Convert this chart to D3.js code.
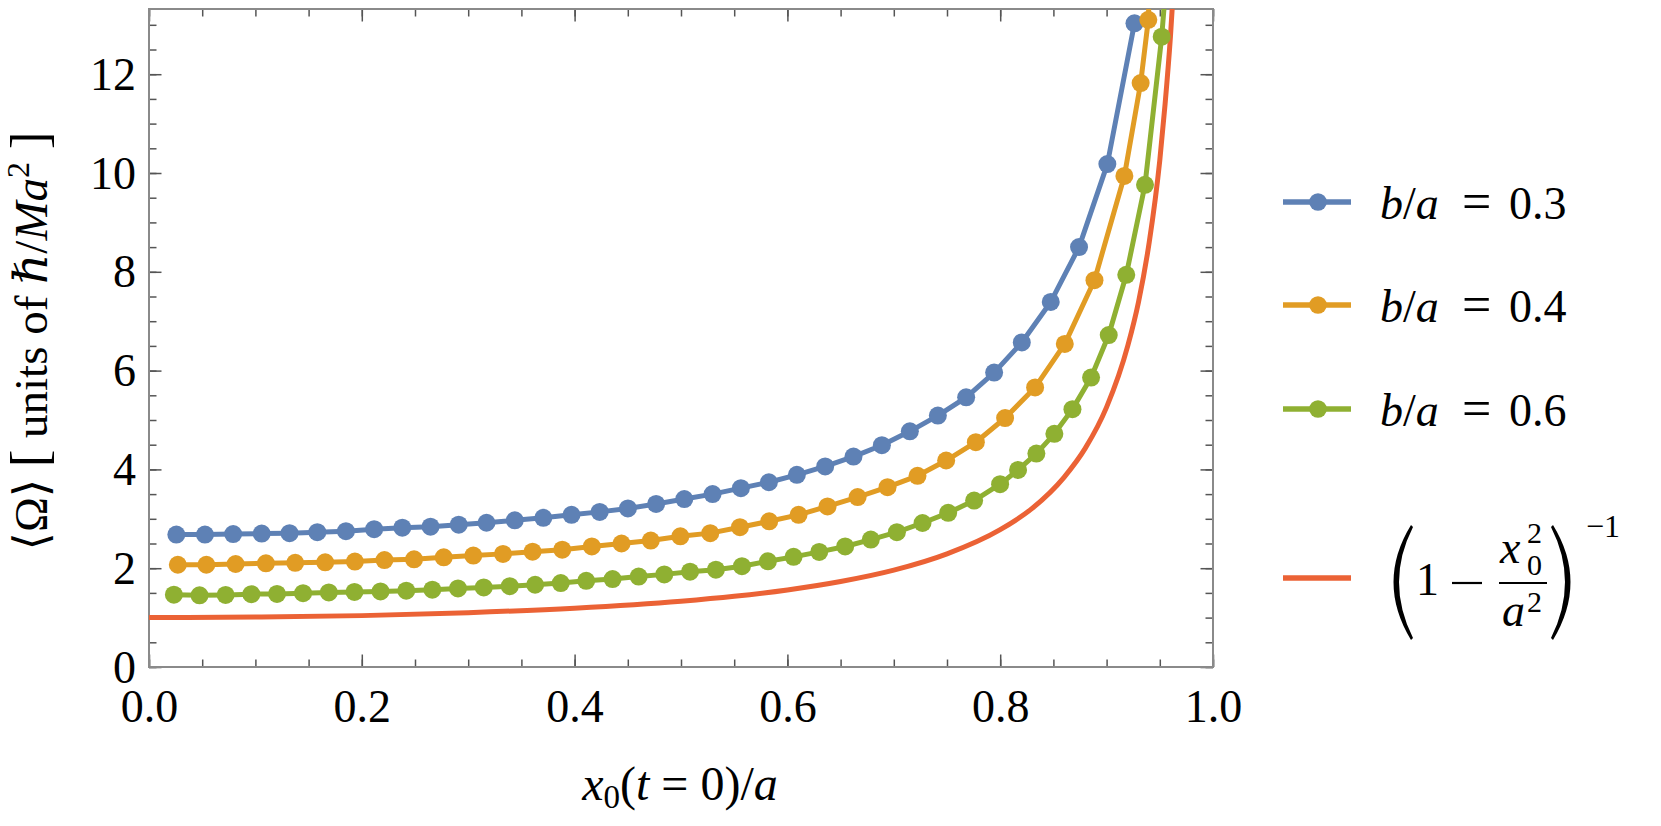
<!doctype html>
<html lang="en">
<head>
<meta charset="utf-8">
<title>Omega vs x0</title>
<style>
  body { margin: 0; background: #fff; }
  svg text { font-family: "Liberation Serif", "Times New Roman", "DejaVu Serif", serif; fill: #000; }
  .it { font-style: italic; }
</style>
</head>
<body>
<script src="https://d3js.org/d3.v7.min.js"></script>
<script>
// data
var xBlue = [0.0257,0.0526,0.0791,0.1059,0.1321,0.1582,0.1851,0.2116,0.2381,0.2646,0.2911,0.3172,0.3438,0.3706,0.3971,0.4236,0.4501,0.4766,0.5031,0.5297,0.5563,0.5826,0.6089,0.6355,0.6621,0.6888,0.7151,0.7414,0.7680,0.7943,0.8203,0.8475,0.8741,0.9007,0.9262];
var yBlue = [2.68,2.68,2.69,2.70,2.71,2.73,2.75,2.79,2.82,2.84,2.88,2.92,2.97,3.02,3.08,3.14,3.21,3.30,3.40,3.50,3.62,3.74,3.89,4.06,4.26,4.49,4.77,5.09,5.46,5.96,6.57,7.39,8.50,10.18,13.03];

var xOrange = [0.0271,0.0539,0.0814,0.1099,0.1374,0.1656,0.1935,0.2213,0.2491,0.2770,0.3048,0.3327,0.3605,0.3884,0.4162,0.4441,0.4716,0.4994,0.5275,0.5554,0.5829,0.6105,0.6377,0.6660,0.6941,0.7223,0.7492,0.7771,0.8046,0.8328,0.8607,0.8886,0.9167,0.9320,0.9392,0.9437];
var yOrange = [2.07,2.07,2.085,2.10,2.11,2.12,2.135,2.165,2.18,2.22,2.255,2.29,2.335,2.375,2.44,2.50,2.56,2.645,2.71,2.83,2.95,3.08,3.25,3.44,3.64,3.87,4.18,4.55,5.04,5.66,6.54,7.83,9.94,11.82,13.10,16.0];

var xGreen = [0.0234,0.0475,0.0720,0.0962,0.1203,0.1448,0.1690,0.1931,0.2176,0.2418,0.2663,0.2904,0.3146,0.3391,0.3629,0.3870,0.4109,0.4357,0.4602,0.4843,0.5085,0.5328,0.5573,0.5817,0.6058,0.6299,0.6543,0.6784,0.7029,0.7270,0.7511,0.7755,0.7999,0.8168,0.8340,0.8509,0.8679,0.8854,0.9020,0.9185,0.9361,0.9518,0.962];
var yGreen = [1.465,1.45,1.46,1.475,1.48,1.495,1.51,1.52,1.53,1.545,1.565,1.59,1.61,1.635,1.665,1.70,1.745,1.78,1.83,1.875,1.93,1.97,2.04,2.14,2.23,2.33,2.44,2.58,2.73,2.915,3.12,3.37,3.70,3.99,4.32,4.72,5.22,5.86,6.72,7.94,9.76,12.76,15.5];

var xRed = [0,0.1,0.2,0.3,0.4,0.5,0.55,0.6,0.65,0.7,0.75,0.8,0.83,0.86,0.88,0.9,0.92,0.93,0.94,0.95,0.955,0.96,0.965];
var yRed = [1.0,1.01,1.04,1.10,1.19,1.33,1.43,1.56,1.73,1.96,2.29,2.78,3.21,3.84,4.43,5.26,6.51,7.39,8.59,10.26,11.40,12.76,14.49];

var xTicks = [0, 0.2, 0.4, 0.6, 0.8, 1.0];
var yTicks = [0, 2, 4, 6, 8, 10, 12];
var legendLabels = ["0.3", "0.4", "0.6"];
var colors = ["#5E81B5", "#E19C24", "#8FB032", "#EB6235"];

var margin = {top: 9, right: 448, bottom: 159, left: 149},
    width = 1661 - margin.left - margin.right,
    height = 826 - margin.top - margin.bottom;

var x = d3.scaleLinear().domain([0, 1]).range([0, width]);
var y = d3.scaleLinear().domain([0, 13.32]).range([height, 0]);

var svg = d3.select("body").append("svg")
    .attr("width", 1661)
    .attr("height", 826);

var g = svg.append("g")
    .attr("transform", "translate(" + margin.left + "," + margin.top + ")");

g.append("clipPath").attr("id", "clip")
  .append("rect").attr("width", width).attr("height", height);

// minor + major ticks on all four sides, pointing inward
var minorX = d3.range(0, 1.0001, 0.05), minorY = d3.range(0, 13.3, 0.5);
function tickStyle(sel) {
  sel.attr("font-family", null);
  sel.select(".domain").remove();
  sel.selectAll("line").attr("stroke", "#555").attr("stroke-width", 1.5);
}
g.append("g").attr("transform", "translate(0," + height + ")")
  .call(d3.axisBottom(x).tickValues(minorX).tickSize(-7.5).tickFormat("")).call(tickStyle);
g.append("g").call(d3.axisTop(x).tickValues(minorX).tickSize(-7.5).tickFormat("")).call(tickStyle);
g.append("g").call(d3.axisLeft(y).tickValues(minorY).tickSize(-7.5).tickFormat("")).call(tickStyle);
g.append("g").attr("transform", "translate(" + width + ",0)")
  .call(d3.axisRight(y).tickValues(minorY).tickSize(-7.5).tickFormat("")).call(tickStyle);

var xAxis = g.append("g").attr("transform", "translate(0," + height + ")")
  .call(d3.axisBottom(x).tickValues(xTicks).tickSize(-12.5).tickPadding(22).tickFormat(d3.format(".1f")))
  .call(tickStyle);
g.append("g").call(d3.axisTop(x).tickValues(xTicks).tickSize(-12.5).tickFormat("")).call(tickStyle);
var yAxis = g.append("g")
  .call(d3.axisLeft(y).tickValues(yTicks).tickSize(-12.5).tickPadding(13).tickFormat(d3.format("d")))
  .call(tickStyle);
g.append("g").attr("transform", "translate(" + width + ",0)")
  .call(d3.axisRight(y).tickValues(yTicks).tickSize(-12.5).tickFormat("")).call(tickStyle);

xAxis.selectAll("text").attr("font-size", 46);
yAxis.selectAll("text").attr("font-size", 46).attr("dy", "0.33em");

g.append("rect")
  .attr("width", width).attr("height", height)
  .attr("fill", "none").attr("stroke", "#8a8a8a").attr("stroke-width", 2);

// series
var series = [
  {xs: xBlue, ys: yBlue, color: colors[0]},
  {xs: xOrange, ys: yOrange, color: colors[1]},
  {xs: xGreen, ys: yGreen, color: colors[2]}
];
var line = d3.line().x(function(d) { return x(d[0]); }).y(function(d) { return y(d[1]); });

g.append("path")
  .datum(xRed.map(function(v, i) { return [v, yRed[i]]; }))
  .attr("clip-path", "url(#clip)")
  .attr("fill", "none").attr("stroke", colors[3]).attr("stroke-width", 5)
  .attr("d", line.curve(d3.curveMonotoneX));
line.curve(d3.curveLinear);

series.forEach(function(s) {
  var pts = s.xs.map(function(v, i) { return [v, s.ys[i]]; });
  g.append("path").datum(pts)
    .attr("clip-path", "url(#clip)")
    .attr("fill", "none").attr("stroke", s.color).attr("stroke-width", 5)
    .attr("stroke-linejoin", "round")
    .attr("d", line);
  g.selectAll(null).data(pts.filter(function(d) { return d[1] <= 13.32; }))
    .enter().append("circle")
    .attr("cx", function(d) { return x(d[0]); })
    .attr("cy", function(d) { return y(d[1]); })
    .attr("r", 9)
    .attr("fill", s.color);
});

// axis labels
var xl = svg.append("text").attr("x", 680).attr("y", 800)
  .attr("text-anchor", "middle").attr("font-size", 48);
xl.append("tspan").attr("class", "it").text("x");
xl.append("tspan").attr("font-size", 33).attr("dy", 8).text("0");
xl.append("tspan").attr("dy", -8).text("(");
xl.append("tspan").attr("class", "it").text("t");
xl.append("tspan").attr("dx", 12).text("=");
xl.append("tspan").attr("dx", 12).text("0)/");
xl.append("tspan").attr("class", "it").text("a");

var yl = svg.append("text")
  .attr("transform", "translate(47,341) rotate(-90)")
  .attr("text-anchor", "middle").attr("font-size", 47);
yl.append("tspan").text("\u27E8\u03A9\u27E9 ");
yl.append("tspan").attr("font-size", 52).text("[");
yl.append("tspan").text(" units of ");
yl.append("tspan").attr("class", "it").text("\u210F");
yl.append("tspan").text("/");
yl.append("tspan").attr("class", "it").text("Ma");
yl.append("tspan").attr("font-size", 32).attr("dy", -18).text("2");
yl.append("tspan").attr("font-size", 52).attr("dy", 18).text(" ]");

// legend
var legY = [202, 305, 409];
legendLabels.forEach(function(lab, i) {
  var lg = svg.append("g");
  lg.append("line").attr("x1", 1283).attr("x2", 1351).attr("y1", legY[i]).attr("y2", legY[i])
    .attr("stroke", colors[i]).attr("stroke-width", 5.5);
  lg.append("circle").attr("cx", 1318).attr("cy", legY[i]).attr("r", 8.8).attr("fill", colors[i]);
  var t = lg.append("text").attr("x", 1380).attr("y", legY[i] + 17).attr("font-size", 46);
  t.append("tspan").attr("class", "it").text("b");
  t.append("tspan").text("/");
  t.append("tspan").attr("class", "it").text("a");
  t.append("tspan").attr("x", 1462).attr("font-size", 52).text("=");
  t.append("tspan").attr("x", 1509).text(lab);
});

// legend entry for (1 - x0^2/a^2)^-1
var ly = 578;
svg.append("line").attr("x1", 1283).attr("x2", 1351).attr("y1", ly).attr("y2", ly)
  .attr("stroke", colors[3]).attr("stroke-width", 5.5);
svg.append("path")
  .attr("d", "M1411,525 Q1376,582 1411,640 L1413,638 Q1385,582 1413,527 Z")
  .attr("fill", "#000");
svg.append("path")
  .attr("d", "M1553,525 Q1588,582 1553,640 L1551,638 Q1579,582 1551,527 Z")
  .attr("fill", "#000");
svg.append("text").attr("x", 1416).attr("y", 595).attr("font-size", 46).text("1");
svg.append("line").attr("x1", 1452).attr("x2", 1482).attr("y1", 583).attr("y2", 583)
  .attr("stroke", "#000").attr("stroke-width", 2.2);
svg.append("line").attr("x1", 1499).attr("x2", 1547).attr("y1", 583).attr("y2", 583)
  .attr("stroke", "#000").attr("stroke-width", 2);
svg.append("text").attr("x", 1500).attr("y", 563).attr("font-size", 46).attr("class", "it").text("x");
svg.append("text").attr("x", 1527).attr("y", 543).attr("font-size", 30).text("2");
svg.append("text").attr("x", 1527).attr("y", 575).attr("font-size", 30).text("0");
svg.append("text").attr("x", 1502).attr("y", 626).attr("font-size", 46).attr("class", "it").text("a");
svg.append("text").attr("x", 1527).attr("y", 612).attr("font-size", 30).text("2");
svg.append("text").attr("x", 1586).attr("y", 537).attr("font-size", 32).text("\u22121");
</script>
</body>
</html>
